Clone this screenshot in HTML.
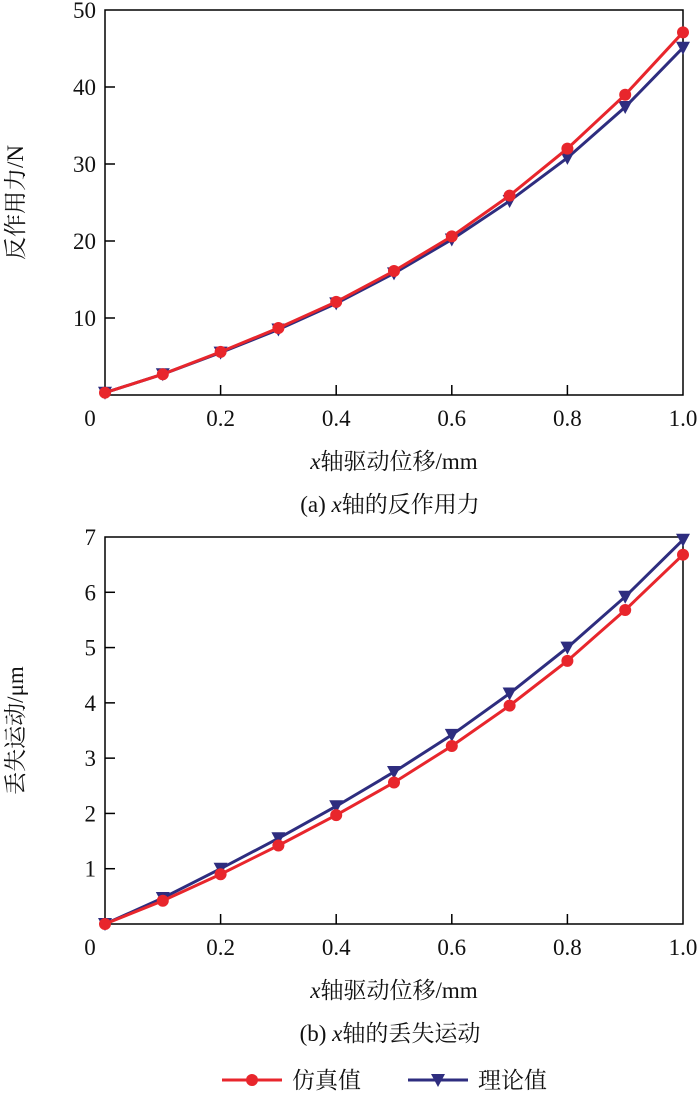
<!DOCTYPE html>
<html><head><meta charset="utf-8"><style>
body{margin:0;background:#fff;width:700px;height:1094px;overflow:hidden}
svg text{font-family:"Liberation Serif","Noto Serif CJK SC",serif;fill:#111}
</style></head><body>
<svg id="s" width="700" height="1094"></svg>
<script>
const xVals=[0,0.1,0.2,0.3,0.4,0.5,0.6,0.7,0.8,0.9,1.0];
const simA=[0.3,2.7,5.6,8.7,12.1,16.1,20.6,25.9,32.0,39.0,47.1];
const theoA=[0.3,2.7,5.5,8.5,11.9,15.8,20.2,25.2,30.8,37.4,45.1];
const simB=[0,0.42,0.9,1.42,1.97,2.56,3.22,3.95,4.76,5.68,6.68];
const theoB=[0,0.47,1.0,1.55,2.13,2.75,3.42,4.17,5.0,5.92,6.95];
const xTicks=["0","0.2","0.4","0.6","0.8","1.0"];
const yTicksA=[10,20,30,40,50];
const yTicksB=[1,2,3,4,5,6,7];
const NS="http://www.w3.org/2000/svg",svg=document.getElementById('s');
function mk(t,a,p){const e=document.createElementNS(NS,t);for(const k in a)e.setAttribute(k,a[k]);(p||svg).appendChild(e);return e;}
const X0=105,X1=683;const sx=v=>X0+v*(X1-X0);
function panel(top,bot,ymax,yt,s1,s2,ylabel,cap,name){
  const g=mk('g',{});
  
  
  const sy=v=>bot-v/ymax*(bot-top);
  const box=mk('rect',{x:X0,y:top,width:X1-X0,height:bot-top,fill:'none',stroke:'#000','stroke-width':1.5},g);
  
  xTicks.forEach((t,i)=>{const x=sx(i*0.2);
    if(i>0&&i<5)mk('line',{x1:x,x2:x,y1:bot,y2:bot-10,stroke:'#000','stroke-width':1.5},g);
    const tx=mk('text',{x:i==0?90:x,y:bot+31,'font-size':23,'text-anchor':'middle'},g);tx.textContent=t;
    });
  yt.forEach(v=>{const y=sy(v);
    if(v<ymax)mk('line',{x1:X0,x2:X0+10,y1:y,y2:y,stroke:'#000','stroke-width':1.5},g);
    const tx=mk('text',{x:X0-9,y:y+8,'font-size':23,'text-anchor':'end'},g);tx.textContent=v;
    });
  const yl=mk('text',{x:0,y:0,'font-size':23,'text-anchor':'middle',transform:`translate(23,${(top+bot)/2}) rotate(-90)`},g);yl.textContent=ylabel;
  
  const xl=mk('text',{x:394,y:bot+74,'font-size':23,'text-anchor':'middle'},g);xl.innerHTML='<tspan font-style="italic">x</tspan>轴驱动位移/mm';
  
  const cp=mk('text',{x:390,y:bot+117,'font-size':23,'text-anchor':'middle'},g);cp.innerHTML=cap;
  
  [[s2,'#2e2d7f','tri','theory-series'],[s1,'#e8262c','circ','simulation-series']].forEach(([d,c,m,n])=>{
    const ln=mk('polyline',{points:d.map((v,i)=>sx(xVals[i])+','+sy(v)).join(' '),fill:'none',stroke:c,'stroke-width':3},g);
    
    d.forEach((v,i)=>{const x=sx(xVals[i]),y=sy(v);let e;
      if(m=='circ')e=mk('circle',{cx:x,cy:y,r:6,fill:c},g);
      else e=mk('polygon',{points:`${x-7},${y-6} ${x+7},${y-6} ${x},${y+7}`,fill:c},g);
      });
  });
}
panel(10,395,50,yTicksA,simA,theoA,'反作用力/N','(a) <tspan font-style="italic">x</tspan>轴的反作用力','panel-a-reaction-force');
panel(537,924,7,yTicksB,simB,theoB,'丢失运动/μm','(b) <tspan font-style="italic">x</tspan>轴的丢失运动','panel-b-lost-motion');
const lg=mk('g',{});


mk('line',{x1:222,x2:282,y1:1080,y2:1080,stroke:'#e8262c','stroke-width':3},lg);
mk('circle',{cx:252,cy:1080,r:6,fill:'#e8262c'},lg);
const t1=mk('text',{x:292,y:1088,'font-size':23},lg);t1.textContent='仿真值';

mk('line',{x1:408,x2:468,y1:1080,y2:1080,stroke:'#2e2d7f','stroke-width':3},lg);
mk('polygon',{points:'431,1074 445,1074 438,1087',fill:'#2e2d7f'},lg);
const t2=mk('text',{x:478,y:1088,'font-size':23},lg);t2.textContent='理论值';

</script>
</body></html>
